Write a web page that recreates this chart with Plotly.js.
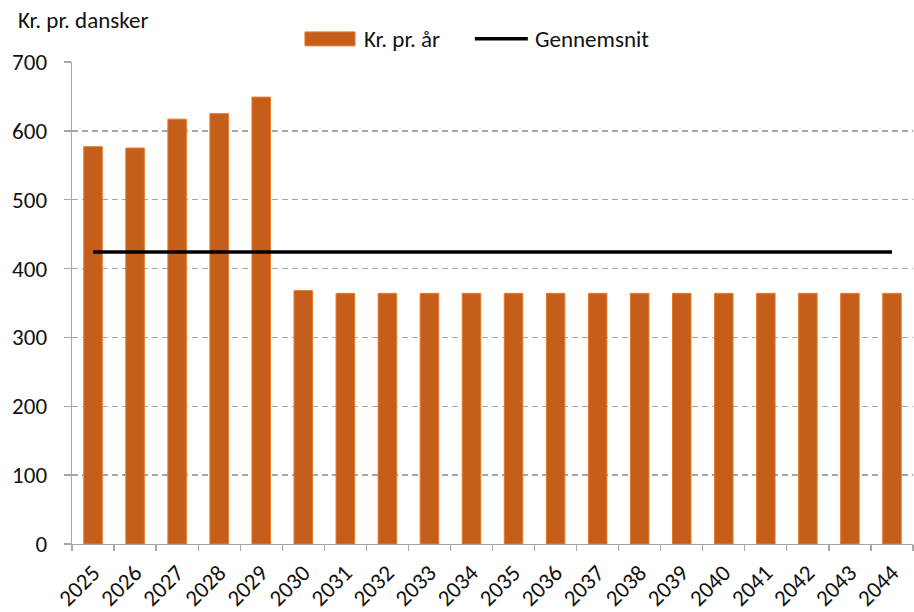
<!DOCTYPE html>
<html>
<head>
<meta charset="utf-8">
<script src="https://cdn.plot.ly/plotly-3.0.1.min.js"></script>
<style>html,body{margin:0;padding:0;background:#fff;}#chart{width:914px;height:612px;}</style>
</head>
<body>
<div id="chart"></div>
<script>
const years = ["2025","2026","2027","2028","2029","2030","2031","2032","2033","2034","2035","2036","2037","2038","2039","2040","2041","2042","2043","2044"];
const krPrAar = [577, 575, 617, 625, 649, 368, 364, 364, 364, 364, 364, 364, 364, 364, 364, 364, 364, 364, 364, 364];
const gennemsnit = [424, 424, 424, 424, 424, 424, 424, 424, 424, 424, 424, 424, 424, 424, 424, 424, 424, 424, 424, 424];
const yTicks = [0, 100, 200, 300, 400, 500, 600, 700];
const seriesNames = ["Kr. pr. år", "Gennemsnit"];

const font = "Carlito, Calibri, Lato, 'Open Sans', sans-serif";
const barFill = "#C55E1B", barEdge = "#E8782A";

const traces = [
  {
    type: "bar", name: seriesNames[0], x: years, y: krPrAar,
    marker: {color: barFill, line: {color: barEdge, width: 1}},
    width: 0.44, showlegend: false
  },
  {
    type: "scatter", mode: "lines", name: seriesNames[1], x: years, y: gennemsnit,
    line: {color: "#000000", width: 3.5}, showlegend: false
  }
];

const txtFont = {family: font, size: 23, color: "#111"};

const layout = {
  width: 914, height: 612,
  margin: {l: 72, r: 1, t: 62, b: 68},
  paper_bgcolor: "#fff", plot_bgcolor: "#fff",
  font: txtFont,
  showlegend: false,
  xaxis: {
    type: "category", tickangle: -45,
    showline: true, linecolor: "#A6A6A6", linewidth: 1.3,
    ticks: "outside", tickson: "boundaries", ticklen: 6, tickcolor: "#A6A6A6", tickwidth: 1.3,
    ticklabelstandoff: 5,
    showgrid: false, tickfont: txtFont,
    range: [-0.5, 19.5]
  },
  yaxis: {
    range: [0, 700], tickvals: yTicks, ticktext: yTicks.map(String),
    showline: true, linecolor: "#A6A6A6", linewidth: 1.3,
    ticks: "outside", ticklen: 7, tickcolor: "#A6A6A6", tickwidth: 1.3,
    ticklabelstandoff: 12,
    showgrid: true, gridcolor: "#A6A6A6", griddash: "6px,4px", gridwidth: 1.3,
    zeroline: false, tickfont: txtFont
  },
  shapes: [
    {type: "rect", xref: "paper", yref: "paper", x0: 0.277, x1: 0.3365, y0: 1.0335, y1: 1.0625,
     fillcolor: barFill, line: {color: barEdge, width: 1}},
    {type: "line", xref: "paper", yref: "paper", x0: 0.479, x1: 0.542, y0: 1.048, y1: 1.048,
     line: {color: "#000", width: 3.5}}
  ],
  annotations: [
    {text: "Kr. pr. dansker", xref: "paper", yref: "paper", x: -0.066, y: 1.087,
     xanchor: "left", yanchor: "middle", showarrow: false, font: txtFont},
    {text: seriesNames[0], xref: "paper", yref: "paper", x: 0.3448, y: 1.0475,
     xanchor: "left", yanchor: "middle", showarrow: false, font: txtFont},
    {text: seriesNames[1], xref: "paper", yref: "paper", x: 0.548, y: 1.0475,
     xanchor: "left", yanchor: "middle", showarrow: false, font: txtFont}
  ]
};

Plotly.newPlot("chart", traces, layout, {displayModeBar: false, staticPlot: true});
</script>
</body>
</html>
